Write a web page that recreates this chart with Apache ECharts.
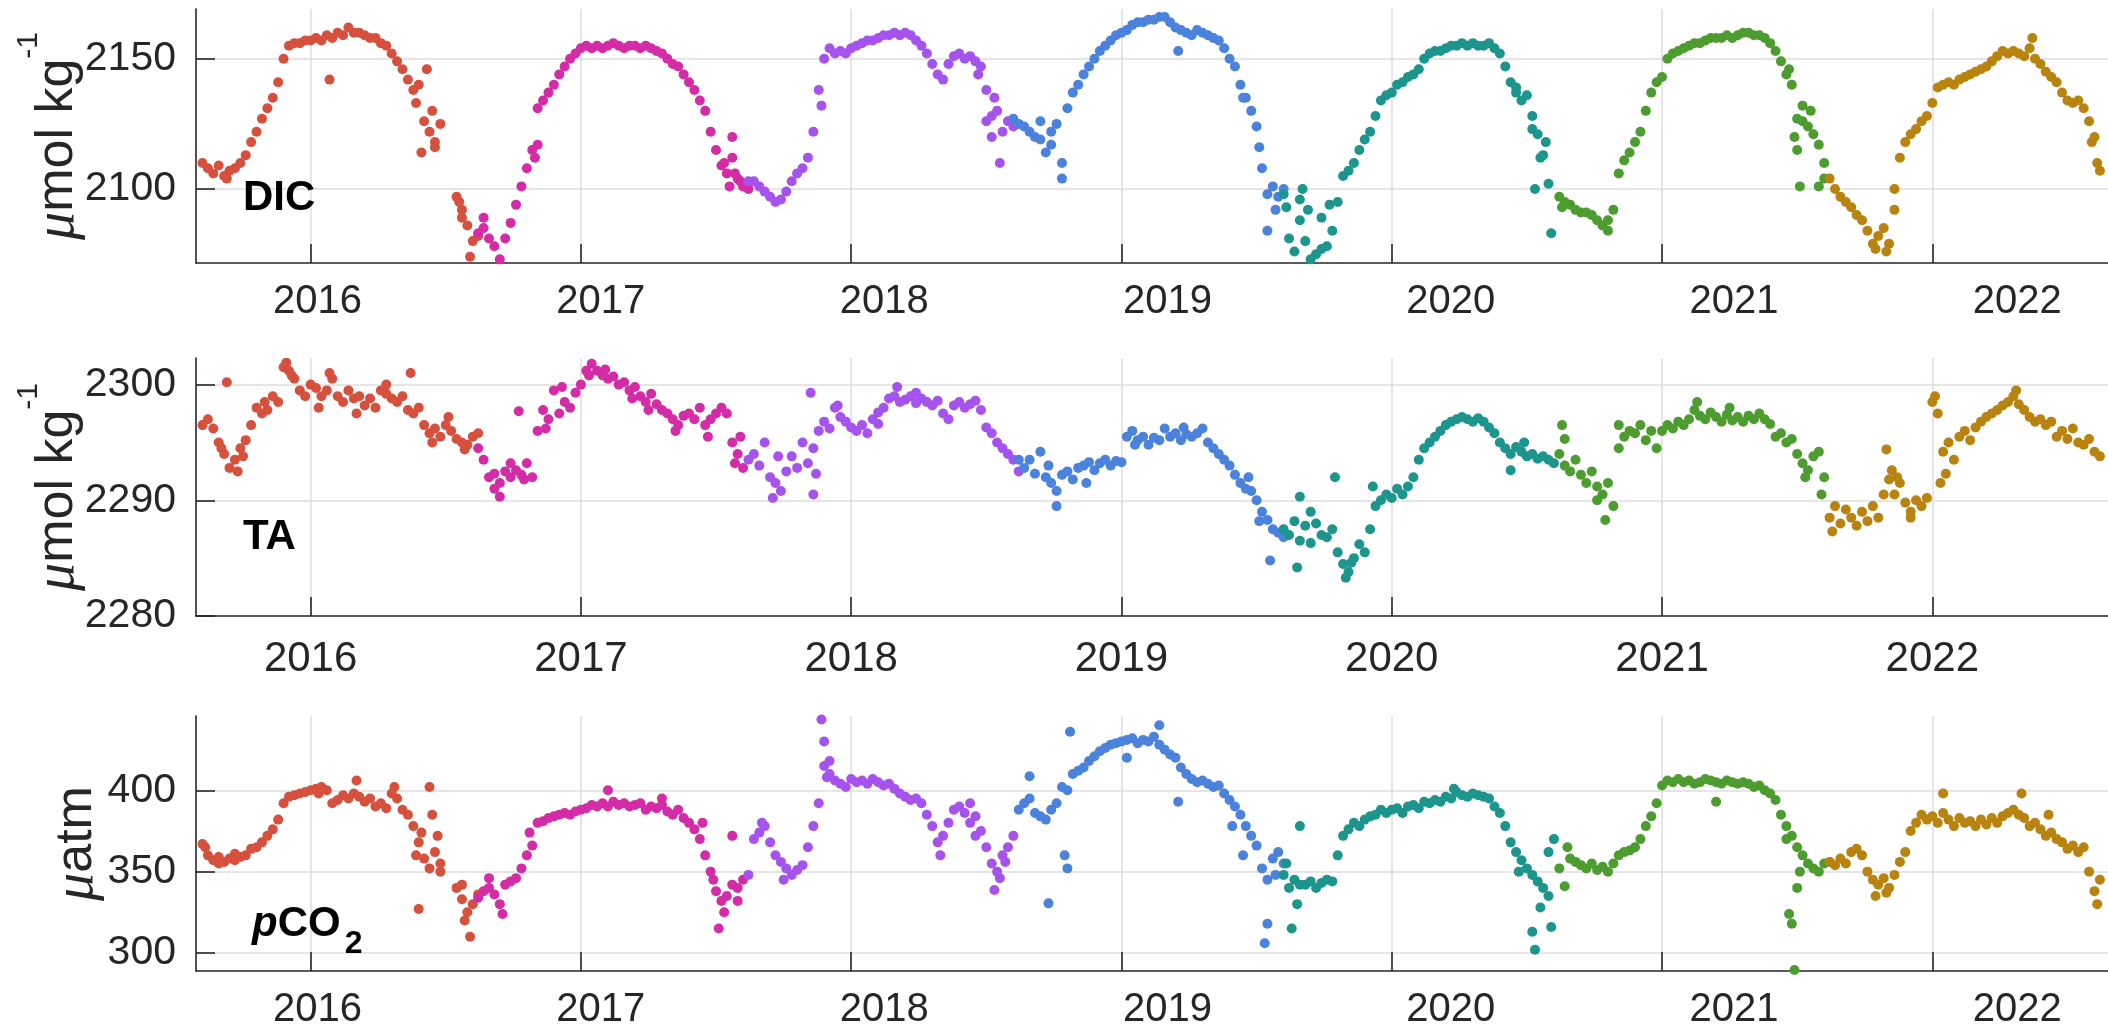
<!DOCTYPE html>
<html>
<head>
<meta charset="utf-8">
<script src="https://cdn.jsdelivr.net/npm/echarts@6/dist/echarts.min.js"></script>
<style>
  html, body { margin: 0; padding: 0; background: #ffffff; }
  #chart { width: 2108px; height: 1033px; }
</style>
</head>
<body>
<div id="chart"></div>
<script>
// Sampling step of the gridded series (decimal years, about one week)
const STEP = 0.02;

const YEAR_TICKS = [2016, 2017, 2018, 2019, 2020, 2021, 2022];
const DIC_TICKS = [2100, 2150];
const TA_TICKS = [2280, 2290, 2300];
const PCO2_TICKS = [300, 350, 400];

// One colour per mooring deployment
const DEPLOYMENT_COLORS = ['#d6513d', '#d42ca7', '#a653ee', '#4a82dc', '#1c958d', '#4d9c30', '#b8830f'];

// Start time (decimal year) of each deployment's gridded record
const DIC_START = [2015.60, 2016.62, 2017.62, 2018.60, 2019.60, 2020.62, 2021.62];
const TA_START = [2015.60, 2016.62, 2017.62, 2018.62, 2019.60, 2020.62, 2021.62];
const PCO2_START = [2015.60, 2016.62, 2017.62, 2018.62, 2019.60, 2020.62, 2021.62];

// ---- DIC (umol/kg) ----
const DIC_2015 = [2110,2108,2106,2109,2105,2107,2108,2110,2113,2118,2122,2127,2131,2135,2141,2150,2155,2156,2156,2157,2157,2158,2157,2159,2158,2160,2159,2162,2160,2160,2159,2158,2158,2156,2155,2152,2149,2146,2142,2138,2140,2126,2122,2118,2125,null,null,2097,2092,2086,2080,2082];
const DIC_2016 = [2083,2085,2081,2078,2073,2081,2087,2094,2101,2108,2115,2131,2134,2137,2140,2144,2147,2150,2152,2154,2155,2154,2155,2154,2155,2156,2155,2154,2155,2155,2154,2155,2154,2153,2152,2150,2148,2147,2144,2141,2138,2134,2130,2122,2115,2109,2106,2112,2104,2101,2100];
const DIC_2017 = [2103,2103,2101,2099,2097,2095,2096,2099,2103,2106,2108,2112,2122,2138,2150,2154,2152,2153,2152,2154,2155,2156,2157,2157,2158,2159,2159,2160,2159,2160,2159,2157,2155,2152,2148,2144,2142,2148,2151,2152,2150,2151,2149,2147,2138,2128,2130,2122,2126,2124];
const DIC_2018 = [2127,2125,2124,2122,2120,2119,2114,2122,2125,2110,2131,2137,2140,2144,2147,2150,2153,2155,2157,2159,2160,2161,2163,2164,2164,2165,2165,2166,2166,2164,2162,2161,2160,2159,2161,2160,2159,2158,2157,2154,2150,2147,2140,2135,2130,2124,2108,2098,2101,2097,2100];
const DIC_2019 = [2098,2081,2076,2088,2080,2073,2075,2077,2078,2084,2095,2105,2107,2110,2115,2119,2122,2128,2134,2136,2137,2140,2141,2143,2144,2146,2150,2152,2153,2153,2154,2155,2155,2156,2155,2156,2155,2155,2156,2154,2152,2147,2141,2137,2134,2136,2128,2121,2113,2102];
const DIC_2020 = [2097,2095,2094,2092,2091,2091,2090,2088,2086,2084,2092,2106,2111,2114,2118,2122,2130,2137,2141,2143,2150,2152,2153,2154,2155,2156,2156,2157,2158,2158,2158,2159,2158,2159,2160,2160,2159,2159,2158,2156,2153,2149,2144,2140,2127,2126,2124,2121,2117,2110];
const DIC_2021 = [2104,2100,2097,2095,2093,2090,2088,2084,2079,2082,2085,2079,2100,2112,2118,2121,2123,2126,2128,2133,2139,2140,2141,2140,2142,2143,2144,2145,2146,2147,2149,2151,2153,2152,2153,2152,2151,2154,2150,2148,2145,2143,2141,2137,2134,2133,2134,2131,2126,2120];

// Off-grid DIC samples [decimal year, value]
const DIC_2015_EXTRA = [[2016.07,2142],[2016.43,2146],[2016.41,2114],[2016.46,2116],[2016.45,2130],[2016.59,2074],[2016.56,2089],[2016.55,2095],[2015.69,2104],[2016.39,2133]];
const DIC_2016_EXTRA = [[2016.64,2089],[2016.84,2117],[2016.83,2112],[2017.55,2101],[2017.56,2120],[2017.57,2106],[2017.53,2110],[2017.59,2103]];
const DIC_2017_EXTRA = [[2018.50,2126],[2018.52,2120],[2018.55,2110],[2018.53,2135],[2017.89,2132],[2018.47,2144]];
const DIC_2018_EXTRA = [[2018.78,2104],[2018.70,2126],[2018.74,2117],[2019.54,2084],[2019.51,2116],[2019.45,2135],[2019.57,2092],[2019.21,2153]];
const DIC_2019_EXTRA = [[2019.61,2093],[2019.66,2096],[2019.69,2092],[2019.67,2100],[2019.74,2089],[2019.77,2094],[2020.59,2083],[2020.52,2123],[2020.55,2112],[2020.57,2118],[2020.53,2100],[2020.46,2139]];
const DIC_2020_EXTRA = [[2021.49,2120],[2021.50,2115],[2021.51,2101],[2021.52,2132],[2021.55,2130],[2021.58,2101],[2021.60,2104],[2021.47,2146],[2020.63,2093],[2020.80,2088]];
const DIC_2021_EXTRA = [[2022.61,2110],[2022.62,2107],[2021.79,2077],[2021.83,2076],[2022.37,2158],[2021.86,2092],[2022.59,2118]];

// ---- TA (umol/kg) ----
const TA_2015 = [2296.5,2297,2296.2,2295,2294,2292.8,2293.5,2294.5,2295.2,2296.5,2298,2297.5,2297.8,2299,2298.5,2301.5,2301.2,2300.5,2299.5,2299,2300,2299.7,2299,2299.5,2300.5,2299,2298.5,2299.5,2298.8,2299,2298.2,2298.8,2298,2299.5,2299.2,2298.8,2298.5,2299,2297.8,2297.5,2298,2296.5,2295.8,2296.2,2295.5,2296.5,2296,2295.3,2295,2294.8,2295.5,2295.8];
const TA_2016 = [2294.5,2293.5,2292,2291,2291.5,2292.5,2292,2292.6,2292.2,2293.2,2292,2296,2297.8,2297,2299.5,2297.5,2298.5,2298,2299.3,2300,2301.2,2301.8,2301.2,2300.8,2300.5,2300.7,2300,2300.2,2299.5,2299.8,2299,2298.5,2299.2,2298.3,2297.8,2297.5,2297,2296.5,2297.3,2297.5,2297,2298,2296.5,2297,2297.5,2298,2297.5,2295,2294,2292.8];
const TA_2017 = [2293.5,2294,2293,2295,2292,2291.5,2290.8,2292.5,2293.8,2292.8,2295,2293.2,2294.5,2296,2296.8,2296.2,2298,2297.2,2296.8,2296.3,2296,2296.5,2295.8,2297,2297.6,2298,2298.8,2299,2298.5,2298.7,2299,2298.4,2298.8,2298.5,2298.2,2298.6,2297.5,2297,2298.2,2298.5,2298,2298.3,2298.6,2297.8,2296.3,2295.8,2295,2294.5,2294,2293.5];
const TA_2018 = [2293.5,2292.8,2293.5,2292.3,2294.2,2292,2291.5,2290.8,2292.2,2292.5,2291.8,2292.8,2293,2293.3,2292.6,2293.2,2293.5,2293,2293.4,2293.3,2295.5,2296,2295.2,2295.5,2294.8,2295.4,2295.2,2296.2,2295.5,2295.8,2295.2,2295.7,2295.5,2295.8,2296.2,2295,2294.5,2294,2293.5,2293,2292.2,2291.5,2291,2290.8,2290,2289,2288.3,2287.5,2287.2,2286.8];
const TA_2019 = [2287.5,2287,2288.2,2286.5,2287.8,2286.3,2288,2287,2286.8,2287.5,2285.5,2284.5,2283.8,2285,2286.2,2285.5,2287.5,2289.5,2290,2290.5,2290.2,2291,2290.5,2291.2,2292,2293.5,2294.5,2295,2295.5,2296,2296.5,2296.8,2297,2297.2,2297,2296.8,2297.1,2296.8,2296.3,2295.8,2295,2294.5,2294,2294.6,2294.2,2293.8,2294,2293.6,2293.8,2293.5,2293.2];
const TA_2020 = [2294,2293,2292.5,2293.5,2292.2,2291.5,2292.5,2291.2,2290.5,2291.5,2289.5,2294.5,2295.5,2296,2295.8,2296.5,2295.2,2296,2294.5,2296,2296.5,2296.2,2296.8,2296.5,2297,2297.8,2297.3,2297,2297.6,2297.2,2296.8,2297.4,2296.9,2297.2,2296.8,2297.3,2297,2297.5,2297,2296.6,2295.5,2295.8,2295,2295.3,2294,2293.2,2292.6,2293.8,2294.2,2292];
const TA_2021 = [2288.5,2289.5,2288,2289.2,2288.5,2287.8,2289,2288.2,2289.5,2288.5,2290.5,2291.8,2290.5,2291.5,2289.8,2289,2290,2289.5,2290.2,2298.5,2297.5,2294.2,2295,2293.5,2295.5,2296,2295.2,2296.3,2296.8,2297.2,2297.5,2297.8,2298.2,2298.5,2299,2298.3,2297.8,2297.2,2296.8,2297,2296.5,2296.8,2295.5,2296,2295.3,2296.2,2295,2294.8,2295.3,2294.2];

const TA_2015_EXTRA = [[2015.69,2300.2],[2015.67,2294.5],[2015.73,2292.5],[2015.75,2293.8],[2015.83,2298.5],[2015.91,2301.9],[2015.93,2300.8],[2016.03,2298],[2016.07,2301],[2016.17,2297.5],[2016.28,2300],[2016.37,2301],[2016.45,2295],[2016.51,2297.2],[2016.57,2294.4]];
const TA_2016_EXTRA = [[2016.70,2290.3],[2016.68,2292.3],[2016.74,2293.2],[2016.77,2297.7],[2016.79,2291.8],[2016.87,2296.2],[2016.93,2299.8],[2017.03,2300.8],[2017.09,2301.3],[2017.19,2298.8],[2017.25,2297.8],[2017.35,2296],[2017.47,2295.5],[2017.57,2293.2],[2017.59,2295.5]];
const TA_2017_EXTRA = [[2017.85,2299.3],[2017.86,2290.5],[2017.87,2292.3],[2017.71,2290.2],[2017.73,2293.8],[2018.17,2299.8],[2017.95,2298.2],[2018.10,2296.6],[2018.24,2299.3],[2018.62,2292.5]];
const TA_2018_EXTRA = [[2018.76,2289.5],[2018.73,2293],[2018.87,2291.5],[2019.47,2292],[2019.55,2284.8],[2019.51,2288.2],[2019.05,2294.8],[2019.23,2296.3]];
const TA_2019_EXTRA = [[2019.66,2290.3],[2019.65,2284.2],[2019.79,2292],[2019.83,2283.3],[2019.70,2289],[2019.85,2284.6],[2019.93,2291.2],[2020.44,2292.6],[2020.49,2295]];
const TA_2020_EXTRA = [[2020.63,2296.5],[2020.64,2295.3],[2020.79,2288.3],[2020.76,2290],[2020.84,2296.5],[2021.13,2298.5],[2021.25,2298],[2021.59,2290.5],[2021.53,2292]];
const TA_2021_EXTRA = [[2021.63,2287.3],[2021.83,2294.4],[2021.85,2292.6],[2021.87,2292],[2022.01,2299],[2022.03,2291.5],[2022.05,2292.3],[2022.31,2299.5],[2022.62,2293.8],[2021.92,2288.5]];

// ---- pCO2 (uatm) ----
const PCO2_2015 = [367,360,357,359,356,358,357,359,360,364,365,368,372,376,382,392,396,397,398,399,400,401,402,400,392,394,397,395,398,396,393,395,390,392,389,398,395,388,385,378,368,358,352,362,355,null,null,340,333,325,330,336];
const PCO2_2016 = [334,338,340,336,330,342,344,346,352,360,366,380,381,383,384,385,386,385,387,388,389,391,390,392,390,393,391,392,390,391,392,388,390,389,391,387,385,388,383,380,376,370,360,350,338,332,335,342,340,345];
const PCO2_2017 = [348,370,374,378,368,360,356,352,348,351,354,365,378,392,430,410,406,404,402,407,405,406,404,407,405,403,404,401,398,396,394,395,392,385,378,368,372,380,388,390,386,392,384,375,365,355,350,360,365,372];
const PCO2_2018 = [388,392,395,386,384,382,388,392,402,400,410,412,414,418,421,424,426,428,429,430,431,432,429,431,430,433,428,425,422,420,414,410,407,405,406,404,402,403,398,394,390,385,378,372,366,352,345,358,362,355];
const PCO2_2019 = [348,340,345,342,342,344,340,343,345,344,360,372,376,380,378,382,384,385,388,386,388,389,386,390,391,389,393,392,394,393,396,395,399,397,396,398,397,396,395,390,386,378,368,362,357,352,348,344,340,335];
const PCO2_2020 = [352,341,358,356,354,352,355,351,353,350,355,360,362,363,365,370,378,384,392,403,406,405,407,405,406,404,405,407,406,405,404,406,405,404,405,404,402,403,400,398,394,385,378,372,365,360,355,352,350,355];
const PCO2_2021 = [356,354,358,355,362,364,360,350,345,342,346,340,348,356,362,375,380,385,382,384,380,386,382,378,383,380,381,378,382,379,383,380,384,386,388,385,383,378,380,376,372,374,370,368,364,366,362,365,350,338];

const PCO2_2015_EXTRA = [[2015.61,365],[2015.66,355],[2015.72,361],[2016.03,398],[2016.17,406],[2016.31,402],[2016.39,360],[2016.40,327],[2016.44,402],[2016.45,385],[2016.47,372],[2016.48,350],[2016.41,374],[2016.56,342],[2016.59,310],[2016.57,320]];
const PCO2_2016_EXTRA = [[2016.71,324],[2016.81,374],[2017.10,400],[2017.30,395],[2017.45,380],[2017.51,315],[2017.53,325],[2017.56,372],[2017.49,345],[2017.58,332],[2016.66,346]];
const PCO2_2017_EXTRA = [[2017.89,443.6],[2017.90,415],[2017.91,408],[2017.92,418],[2017.67,380],[2017.75,345],[2018.33,360],[2018.53,338.7],[2018.55,346],[2018.57,356],[2018.46,372],[2018.44,380]];
const PCO2_2018_EXTRA = [[2018.66,408.6],[2018.73,330.5],[2018.79,360],[2018.80,352],[2018.81,436],[2019.02,420],[2019.13,447.7],[2019.14,440],[2019.21,393],[2019.41,378],[2019.45,360],[2019.53,306],[2019.54,318],[2019.57,348]];
const PCO2_2019_EXTRA = [[2019.63,315],[2019.65,330],[2019.61,355],[2019.66,378],[2020.23,401],[2020.52,313],[2020.53,302],[2020.59,316],[2020.60,370],[2020.58,362],[2020.47,350],[2020.55,328]];
const PCO2_2020_EXTRA = [[2020.65,365],[2021.20,393],[2021.47,324],[2021.48,318],[2021.49,289.5],[2021.50,340],[2021.51,350],[2021.46,370]];
const PCO2_2021_EXTRA = [[2021.79,335],[2021.83,337],[2022.04,398],[2022.33,398],[2022.43,385],[2022.61,330],[2022.62,345]];

// ------------------------------------------------------------------
const FONT = "'Liberation Sans', Arial, Helvetica, sans-serif";
const INK = '#262626';
const GRID_LINE = '#dedede';

// Time span shown on every panel; year labels of the top and bottom panels
// are laid out on their own, slightly wider spaced, label axis.
const X_MIN = 2015.576, X_MAX = 2022.650;
const LABEL_MIN = 2015.571, LABEL_MAX = 2022.320;

function gridded(start, values, extra) {
  const out = [];
  values.forEach((v, i) => {
    if (v !== null) out.push([Math.round((start + i * STEP) * 1000) / 1000, v]);
  });
  return out.concat(extra);
}

const panels = [
  { starts: DIC_START,
    values: [DIC_2015, DIC_2016, DIC_2017, DIC_2018, DIC_2019, DIC_2020, DIC_2021],
    extras: [DIC_2015_EXTRA, DIC_2016_EXTRA, DIC_2017_EXTRA, DIC_2018_EXTRA, DIC_2019_EXTRA, DIC_2020_EXTRA, DIC_2021_EXTRA] },
  { starts: TA_START,
    values: [TA_2015, TA_2016, TA_2017, TA_2018, TA_2019, TA_2020, TA_2021],
    extras: [TA_2015_EXTRA, TA_2016_EXTRA, TA_2017_EXTRA, TA_2018_EXTRA, TA_2019_EXTRA, TA_2020_EXTRA, TA_2021_EXTRA] },
  { starts: PCO2_START,
    values: [PCO2_2015, PCO2_2016, PCO2_2017, PCO2_2018, PCO2_2019, PCO2_2020, PCO2_2021],
    extras: [PCO2_2015_EXTRA, PCO2_2016_EXTRA, PCO2_2017_EXTRA, PCO2_2018_EXTRA, PCO2_2019_EXTRA, PCO2_2020_EXTRA, PCO2_2021_EXTRA] }
];

const series = [];
panels.forEach((p, pi) => {
  p.values.forEach((vals, d) => {
    series.push({
      type: 'scatter',
      xAxisIndex: pi,
      yAxisIndex: pi,
      data: gridded(p.starts[d], vals, p.extras[d]),
      symbol: 'circle',
      symbolSize: 10,
      itemStyle: { color: DEPLOYMENT_COLORS[d], opacity: 1 },
      silent: true
    });
  });
});

const plain = v => String(v);

function timeAxis(gridIndex, showLabels, fontSize, margin) {
  return {
    type: 'value', gridIndex: gridIndex, min: X_MIN, max: X_MAX, position: 'bottom',
    axisLine: { show: true, onZero: false, lineStyle: { color: INK, width: 1.6 } },
    axisTick: { show: true, inside: true, length: 19, customValues: YEAR_TICKS, lineStyle: { color: INK, width: 1.6 } },
    axisLabel: { show: showLabels, customValues: YEAR_TICKS, formatter: plain,
                 fontSize: fontSize, color: INK, fontFamily: FONT, margin: margin },
    splitLine: { show: true, lineStyle: { color: GRID_LINE, width: 1.5 } }
  };
}

function yearLabelAxis(gridIndex, fontSize, margin) {
  return {
    type: 'value', gridIndex: gridIndex, min: LABEL_MIN, max: LABEL_MAX, position: 'bottom',
    axisLine: { show: false, onZero: false }, axisTick: { show: false }, splitLine: { show: false },
    axisLabel: { customValues: YEAR_TICKS, formatter: plain,
                 fontSize: fontSize, color: INK, fontFamily: FONT, margin: margin }
  };
}

const unitRich = {
  m: { fontFamily: "'Liberation Serif', serif", fontStyle: 'italic', fontSize: 56, color: INK },
  s: { fontFamily: FONT, fontSize: 30, color: INK, padding: [0, 0, 58, 0] }
};

function valueAxis(gridIndex, min, max, ticks, name, nameGap) {
  return {
    type: 'value', gridIndex: gridIndex, min: min, max: max, position: 'left',
    axisLine: { show: true, onZero: false, lineStyle: { color: INK, width: 1.6 } },
    axisTick: { show: true, inside: true, length: 19, customValues: ticks, lineStyle: { color: INK, width: 1.6 } },
    axisLabel: { customValues: ticks, formatter: plain, fontSize: 41, color: INK, fontFamily: FONT, margin: 20 },
    splitLine: { show: true, lineStyle: { color: GRID_LINE, width: 1.5 } },
    name: name, nameLocation: 'middle', nameRotate: 90, nameGap: nameGap, nameMoveOverlap: false,
    nameTextStyle: { fontSize: 52, color: INK, fontFamily: FONT, rich: unitRich }
  };
}

const tagStyle = { fontSize: 42, fontWeight: 'bold', color: '#000000', fontFamily: FONT };

const option = {
  animation: false,
  backgroundColor: '#ffffff',
  grid: [
    { left: 196, right: 0, top: 9, height: 254 },
    { left: 196, right: 0, top: 358, height: 258 },
    { left: 196, right: 0, top: 716, height: 255 }
  ],
  xAxis: [
    timeAxis(0, false, 40, 19),
    timeAxis(1, true, 42, 22),
    timeAxis(2, false, 40, 19),
    yearLabelAxis(0, 40, 19),
    yearLabelAxis(2, 40, 19)
  ],
  yAxis: [
    valueAxis(0, 2071.6, 2169.1, DIC_TICKS, '{m|\u03bc}mol kg{s|-1}', 94),
    valueAxis(1, 2280, 2302.3, TA_TICKS, '{m|\u03bc}mol kg{s|-1}', 94),
    valueAxis(2, 288.9, 445.7, PCO2_TICKS, '{m|\u03bc}atm', 91)
  ],
  title: [
    { text: 'DIC', left: 243, top: 177, padding: 0, textStyle: tagStyle },
    { text: 'TA', left: 243, top: 516, padding: 0, textStyle: tagStyle },
    { text: '{p|p}CO{s|2}', left: 252, top: 888, padding: 0,
      textStyle: Object.assign({}, tagStyle, {
        rich: {
          p: { fontSize: 42, fontWeight: 'bold', fontStyle: 'italic', color: '#000000', fontFamily: FONT },
          s: { fontSize: 32, fontWeight: 'bold', color: '#000000', fontFamily: FONT, padding: [40, 0, 0, 4] }
        }
      }) }
  ],
  series: series
};

const chart = echarts.init(document.getElementById('chart'), null, { renderer: 'canvas' });
chart.setOption(option);
</script>
</body>
</html>
